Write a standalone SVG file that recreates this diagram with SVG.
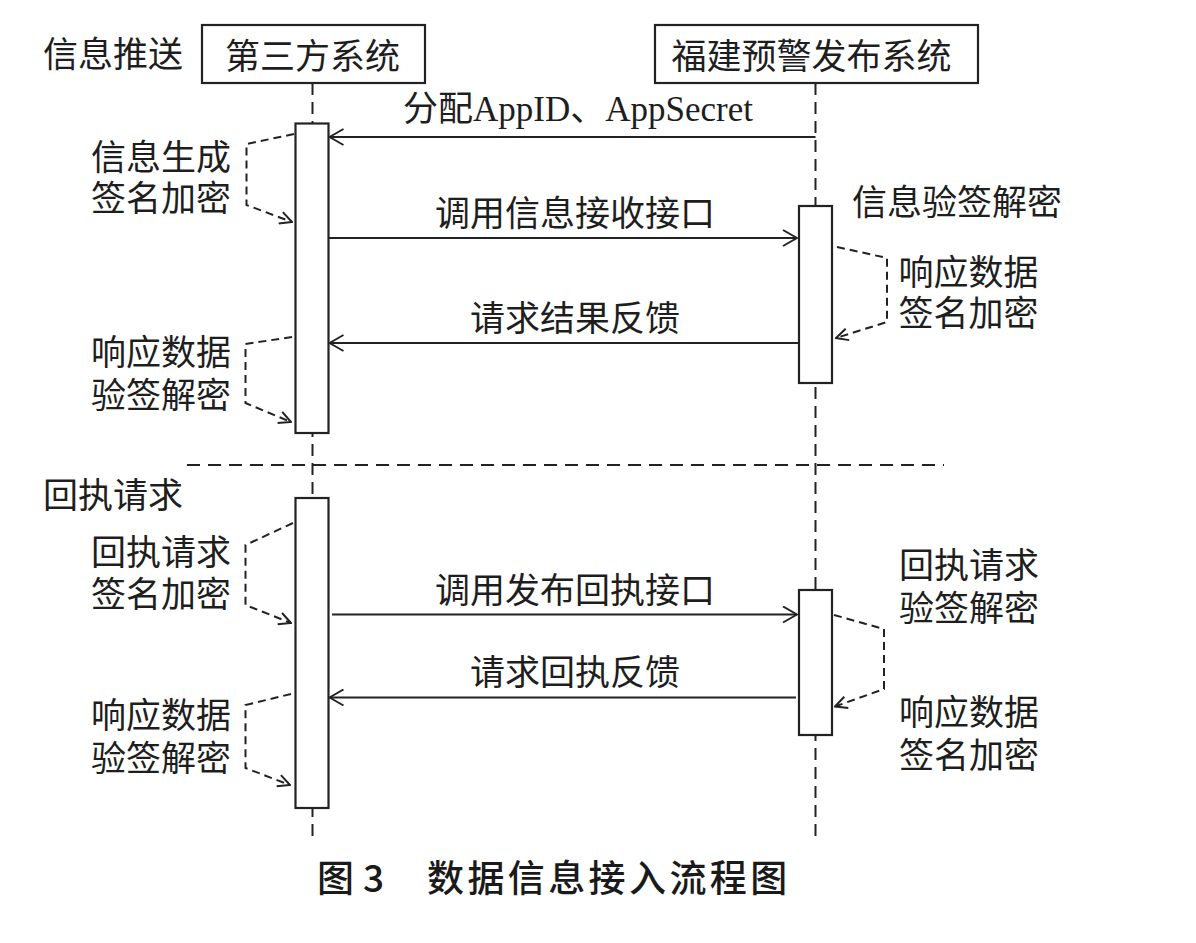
<svg xmlns="http://www.w3.org/2000/svg" width="1196" height="943" viewBox="0 0 1196 943">
<style>
  .t { font-family: "Liberation Serif", "Noto Sans CJK SC", serif; font-size: 35px; fill: #1e1e1e; }
  .cap { font-family: "Noto Sans CJK SC", "Liberation Sans", sans-serif; font-size: 37px; fill: #1a1a1a; font-weight: 500; }
  .box { fill: #ffffff; stroke: #222; stroke-width: 2.2; }
  .act { fill: #ffffff; stroke: #222; stroke-width: 2.2; }
  .life { fill: none; stroke: #222; stroke-width: 2; stroke-dasharray: 12 7; }
  .sep { fill: none; stroke: #222; stroke-width: 2; stroke-dasharray: 13 8; }
  .msg { fill: none; stroke: #222; stroke-width: 2; }
  .self { fill: none; stroke: #222; stroke-width: 2; stroke-dasharray: 8 5; }
  .head { fill: none; stroke: #222; stroke-width: 2; stroke-dasharray: none; }
</style>
<defs>
  <marker id="arr" viewBox="0 0 16 18" refX="15" refY="9" markerWidth="16" markerHeight="18" markerUnits="userSpaceOnUse" orient="auto">
    <path class="head" d="M1,1 L15,9 L1,17"/>
  </marker>
  <marker id="arrs" viewBox="0 0 14 14" refX="13" refY="7" markerWidth="14" markerHeight="14" markerUnits="userSpaceOnUse" orient="auto">
    <path class="head" d="M1,1 L13,7 L1,13"/>
  </marker>
</defs>
<rect width="1196" height="943" fill="#ffffff"/>

<g id="separator">
  <line class="sep" x1="187" y1="465" x2="944" y2="465"/>
</g>

<g id="lifelines">
  <line class="life" x1="312.5" y1="83" x2="312.5" y2="836"/>
  <line class="life" x1="815.5" y1="83" x2="815.5" y2="836"/>
</g>

<g id="third-party">
  <rect class="box" x="202" y="25" width="223" height="58"/>
  <text class="t" x="225" y="69">第三方系统</text>
</g>
<g id="fujian">
  <rect class="box" x="655" y="25" width="323" height="58"/>
  <text class="t" x="671.5" y="69">福建预警发布系统</text>
</g>

<g id="section-labels">
  <text class="t" x="43" y="67">信息推送</text>
  <text class="t" x="43" y="508">回执请求</text>
</g>

<g id="act-left-1"><rect class="act" x="295.5" y="123.5" width="33" height="309.5"/></g>
<g id="act-left-2"><rect class="act" x="295.5" y="498" width="33" height="310"/></g>
<g id="act-right-1"><rect class="act" x="799" y="206" width="33" height="177"/></g>
<g id="act-right-2"><rect class="act" x="799" y="590" width="33" height="145"/></g>

<g id="connectors">
  <line class="msg" x1="815.5" y1="137" x2="329.5" y2="137" marker-end="url(#arr)"/>
  <line class="msg" x1="328.5" y1="238" x2="797" y2="238" marker-end="url(#arr)"/>
  <line class="msg" x1="799" y1="343" x2="329.5" y2="343" marker-end="url(#arr)"/>
  <line class="msg" x1="332" y1="614.5" x2="797" y2="614.5" marker-end="url(#arr)"/>
  <line class="msg" x1="796" y1="697.5" x2="329.5" y2="697.5" marker-end="url(#arr)"/>

  <polyline class="self" points="294,134 246.5,144 246.5,205 292,222" marker-end="url(#arrs)"/>
  <polyline class="self" points="292,337 245.5,344 245.5,403 291,422" marker-end="url(#arrs)"/>
  <polyline class="self" points="293,523 245.5,545 245.5,605 291,623" marker-end="url(#arrs)"/>
  <polyline class="self" points="291,694 245.5,705 245.5,768 290,785" marker-end="url(#arrs)"/>
  <polyline class="self" points="837,247 887,258 887,322 836,338" marker-end="url(#arrs)"/>
  <polyline class="self" points="834,615 884,629 884,689 835,706.5" marker-end="url(#arrs)"/>
</g>

<g id="message-labels">
  <text class="t" x="403" y="121">分配AppID、AppSecret</text>
  <text class="t" x="435" y="226">调用信息接收接口</text>
  <text class="t" x="470" y="331">请求结果反馈</text>
  <text class="t" x="435" y="603">调用发布回执接口</text>
  <text class="t" x="470" y="685">请求回执反馈</text>
</g>

<g id="self-labels">
  <text class="t" x="91" y="170">信息生成</text>
  <text class="t" x="91" y="211">签名加密</text>
  <text class="t" x="91" y="365">响应数据</text>
  <text class="t" x="91" y="408">验签解密</text>
  <text class="t" x="852" y="215">信息验签解密</text>
  <text class="t" x="898.5" y="285">响应数据</text>
  <text class="t" x="898.5" y="326">签名加密</text>
  <text class="t" x="91" y="565">回执请求</text>
  <text class="t" x="91" y="607">签名加密</text>
  <text class="t" x="91" y="728">响应数据</text>
  <text class="t" x="91" y="771">验签解密</text>
  <text class="t" x="899" y="578">回执请求</text>
  <text class="t" x="899" y="621">验签解密</text>
  <text class="t" x="899" y="725">响应数据</text>
  <text class="t" x="899" y="768">签名加密</text>
</g>

<g id="caption">
  <text class="cap" x="317" y="892">图</text>
  <text class="cap" x="363" y="892">3</text>
  <text class="cap" x="427" y="892" letter-spacing="3.4">数据信息接入流程图</text>
</g>
</svg>
